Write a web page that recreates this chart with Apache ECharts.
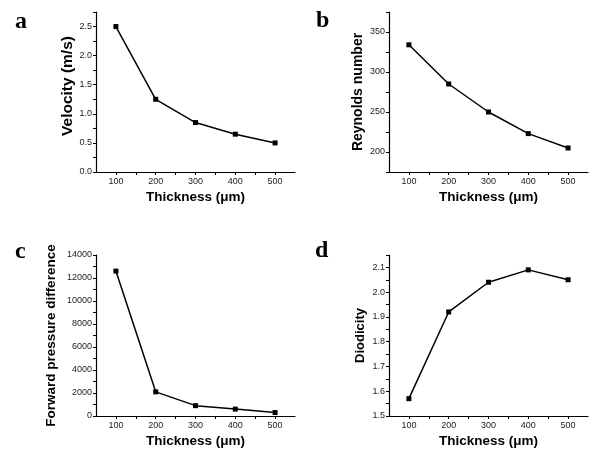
<!DOCTYPE html>
<html>
<head>
<meta charset="utf-8">
<script src="https://cdn.jsdelivr.net/npm/echarts@6/dist/echarts.min.js"></script>
<style>
  html, body { margin: 0; padding: 0; background: #fff; }
  #chart { width: 590px; height: 451px; }
</style>
</head>
<body>
<div id="chart"></div>
<script>
const thickness = [100, 200, 300, 400, 500]
const velocity = [2.5, 1.25, 0.85, 0.65, 0.5]
const reynolds = [334, 285, 250, 223, 205]
const pressure = [12600, 2100, 900, 600, 300]
const diodicity = [1.57, 1.92, 2.04, 2.09, 2.05]

const panelLetters = ['a', 'b', 'c', 'd']
const yNames = ['Velocity (m/s)', 'Reynolds number', 'Forward pressure difference', 'Diodicity']
const xName = 'Thickness (\u03bcm)'

const chart = echarts.init(document.getElementById('chart'))
const font = 'Liberation Sans, Arial, sans-serif'

// grid boxes
const grids = [
  { left: 96, top: 12, width: 199, height: 160 },
  { left: 389, top: 12, width: 199, height: 160 },
  { left: 96, top: 255, width: 199, height: 161 },
  { left: 389, top: 255, width: 199, height: 161 }
]

// y ranges; ticks every half major step, labels only on majors
const yCfg = [
  { min: 0, max: 2.75, step: 0.25, major: 0.5, lo: 0, hi: 2.5, dec: 1, gap: 20, size: 15.5, pad: [0, 0, 0, 12] },
  { min: 175, max: 375, step: 25, major: 50, lo: 200, hi: 350, dec: 0, gap: 24, size: 14, pad: 0 },
  { min: 0, max: 14000, step: 1000, major: 2000, lo: 0, hi: 14000, dec: 0, gap: 38, size: 13.5, pad: 0 },
  { min: 1.5, max: 2.15, step: 0.05, major: 0.1, lo: 1.5, hi: 2.1, dec: 1, gap: 22, size: 13, pad: 0 }
]
const seriesData = [velocity, reynolds, pressure, diodicity]

const axisLine = { show: true, lineStyle: { color: '#000', width: 1.2 } }
const axisTick = { show: true, inside: false, length: 3, lineStyle: { color: '#000' } }

function isMajor (v, c) {
  const r = Math.round(v / c.major * 1000) / 1000
  return Math.abs(r - Math.round(r)) < 1e-6 && v >= c.lo - 1e-9 && v <= c.hi + 1e-9
}

const option = {
  animation: false,
  backgroundColor: '#fff',
  grid: grids,
  xAxis: grids.map((g, i) => ({
    type: 'value',
    gridIndex: i,
    min: 50,
    max: 550,
    interval: 50,
    name: xName,
    nameLocation: 'middle',
    nameGap: 18,
    nameTextStyle: { fontFamily: font, fontWeight: 'bold', fontSize: 13.5, color: '#000' },
    axisLine: axisLine,
    axisTick: axisTick,
    splitLine: { show: false },
    axisLabel: {
      margin: 5,
      fontFamily: font,
      fontSize: 9,
      color: '#222',
      showMinLabel: false,
      showMaxLabel: false,
      formatter: (v) => (v % 100 === 0 && v >= 100 && v <= 500 ? String(v) : '')
    }
  })),
  yAxis: yCfg.map((c, i) => ({
    type: 'value',
    gridIndex: i,
    min: c.min,
    max: c.max,
    interval: c.step,
    name: yNames[i],
    nameLocation: 'middle',
    nameGap: c.gap,
    nameTextStyle: { fontFamily: font, fontWeight: 'bold', fontSize: c.size, color: '#000', padding: c.pad },
    axisLine: axisLine,
    axisTick: axisTick,
    splitLine: { show: false },
    axisLabel: {
      margin: 4,
      fontFamily: font,
      fontSize: 9,
      color: '#222',
      formatter: (v) => (isMajor(v, c) ? v.toFixed(c.dec) : '')
    }
  })),
  series: seriesData.map((d, i) => ({
    type: 'line',
    xAxisIndex: i,
    yAxisIndex: i,
    data: thickness.map((t, k) => [t, d[k]]),
    symbol: 'rect',
    symbolSize: 5,
    lineStyle: { color: '#000', width: 1.5 },
    itemStyle: { color: '#000' }
  })),
  graphic: [
    { type: 'text', left: 15, top: 10, style: { text: panelLetters[0], font: 'bold 24px "Liberation Serif", serif', fill: '#000' } },
    { type: 'text', left: 316, top: 9, style: { text: panelLetters[1], font: 'bold 24px "Liberation Serif", serif', fill: '#000' } },
    { type: 'text', left: 15, top: 240, style: { text: panelLetters[2], font: 'bold 24px "Liberation Serif", serif', fill: '#000' } },
    { type: 'text', left: 315, top: 239, style: { text: panelLetters[3], font: 'bold 24px "Liberation Serif", serif', fill: '#000' } }
  ]
}

chart.setOption(option)
</script>
</body>
</html>
